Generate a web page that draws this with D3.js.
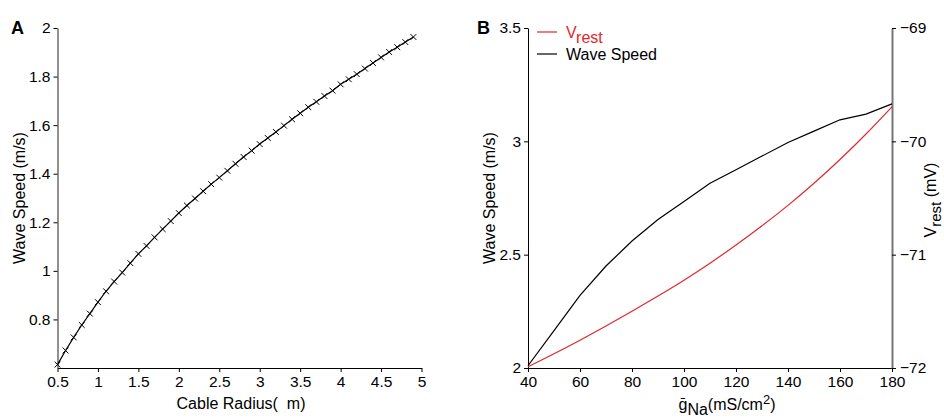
<!DOCTYPE html>
<html>
<head>
<meta charset="utf-8">
<script src="https://cdn.jsdelivr.net/npm/d3@7"></script>
<style>
  body { margin: 0; background: #fff; }
  svg { font-family: "Liberation Sans", Arial, sans-serif; }
  .tick text { font-size: 15.5px; fill: #000; }
</style>
</head>
<body>
<svg id="chart" width="944" height="420"></svg>
<script>
// Panel A: wave speed vs cable radius
const radius = [0.5, 0.6, 0.7, 0.8, 0.9, 1.0, 1.1, 1.2, 1.3, 1.4, 1.5, 1.6, 1.7, 1.8, 1.9,
  2.0, 2.1, 2.2, 2.3, 2.4, 2.5, 2.6, 2.7, 2.8, 2.9, 3.0, 3.1, 3.2, 3.3, 3.4, 3.5, 3.6, 3.7,
  3.8, 3.9, 4.0, 4.1, 4.2, 4.3, 4.4, 4.5, 4.6, 4.7, 4.8, 4.9]
const speedA = [0.614, 0.672, 0.726, 0.777, 0.824, 0.871, 0.916, 0.956, 0.993, 1.032, 1.070,
  1.103, 1.138, 1.172, 1.205, 1.238, 1.269, 1.298, 1.328, 1.357, 1.384, 1.412, 1.441, 1.469,
  1.495, 1.522, 1.547, 1.572, 1.598, 1.624, 1.649, 1.674, 1.696, 1.720, 1.742, 1.768, 1.789,
  1.810, 1.833, 1.856, 1.879, 1.901, 1.921, 1.942, 1.963]
const xTicksA = [0.5, 1, 1.5, 2, 2.5, 3, 3.5, 4, 4.5, 5]
const yTicksA = [0.8, 1, 1.2, 1.4, 1.6, 1.8, 2]

// Panel B: wave speed and resting potential vs gNa
const gNa = [40, 50, 60, 70, 80, 90, 100, 110, 120, 130, 140, 150, 160, 170, 180]
const speedB = [2.01, 2.165, 2.32, 2.45, 2.56, 2.655, 2.735, 2.815, 2.875, 2.935, 2.995,
  3.045, 3.095, 3.12, 3.165]
const vRest = [-71.99, -71.875, -71.755, -71.63, -71.50, -71.365, -71.225, -71.075, -70.915,
  -70.745, -70.565, -70.37, -70.16, -69.935, -69.695]
const xTicksB = [40, 60, 80, 100, 120, 140, 160, 180]
const yTicksB = [2, 2.5, 3, 3.5]
const vTicksB = [-72, -71, -70, -69]

const red = '#e3262b'
const svg = d3.select('#chart')
const fmt = d3.format('')

// ---------- Panel A ----------
const xA = d3.scaleLinear().domain([0.5, 5]).range([57.5, 421.5])
const yA = d3.scaleLinear().domain([0.6, 2]).range([368, 28])

const gA = svg.append('g')

gA.append('g')
  .attr('transform', 'translate(0,368)')
  .call(d3.axisBottom(xA).tickValues(xTicksA).tickSize(4).tickSizeOuter(0).tickPadding(4)
    .tickFormat(fmt))

gA.append('g')
  .attr('transform', 'translate(57.5,0)')
  .call(d3.axisLeft(yA).tickValues(yTicksA).tickSize(4).tickSizeOuter(0).tickPadding(3)
    .tickFormat(fmt))
  .select('.domain').attr('stroke', '#555').attr('stroke-width', 1.3)

gA.append('path')
  .datum(radius.map((r, i) => [r, speedA[i]]))
  .attr('fill', 'none')
  .attr('stroke', '#000')
  .attr('stroke-width', 1.2)
  .attr('d', d3.line().x(d => xA(d[0])).y(d => yA(d[1])))

gA.selectAll('.mark')
  .data(radius.map((r, i) => [r, speedA[i]]))
  .enter()
  .append('path')
  .attr('class', 'mark')
  .attr('transform', d => `translate(${xA(d[0])},${yA(d[1])})`)
  .attr('d', d3.symbol(d3.symbolX, 24))
  .attr('fill', 'none')
  .attr('stroke', '#000')
  .attr('stroke-width', 1)

gA.append('text')
  .attr('transform', 'translate(25,198) rotate(-90)')
  .attr('text-anchor', 'middle')
  .style('font-size', '16px')
  .text('Wave Speed (m/s)')

gA.append('text')
  .attr('x', 241).attr('y', 409)
  .attr('text-anchor', 'middle')
  .style('font-size', '16px')
  .text('Cable Radius(\u00a0\u00a0m)')

gA.append('text')
  .attr('x', 11).attr('y', 34)
  .style('font-size', '18px').style('font-weight', 'bold')
  .text('A')

// ---------- Panel B ----------
const xB = d3.scaleLinear().domain([40, 180]).range([528, 892])
const yB = d3.scaleLinear().domain([2, 3.5]).range([368, 28])
const vB = d3.scaleLinear().domain([-72, -69]).range([368, 28])

const gB = svg.append('g')

gB.append('g')
  .attr('transform', 'translate(0,368)')
  .call(d3.axisBottom(xB).tickValues(xTicksB).tickSize(4).tickSizeOuter(0).tickPadding(4))

gB.append('g')
  .attr('transform', 'translate(528,0)')
  .call(d3.axisLeft(yB).tickValues(yTicksB).tickSize(4).tickSizeOuter(0).tickPadding(3)
    .tickFormat(fmt))

gB.append('g')
  .attr('transform', 'translate(892,0)')
  .call(d3.axisRight(vB).tickValues(vTicksB).tickSize(4).tickSizeOuter(0).tickPadding(4)
    .tickFormat(fmt))
  .select('.domain').attr('stroke', '#777').attr('stroke-width', 2)

gB.append('path')
  .datum(gNa.map((g, i) => [g, vRest[i]]))
  .attr('fill', 'none')
  .attr('stroke', red)
  .attr('stroke-width', 1.2)
  .attr('d', d3.line().curve(d3.curveMonotoneX).x(d => xB(d[0])).y(d => vB(d[1])))

gB.append('path')
  .datum(gNa.map((g, i) => [g, speedB[i]]))
  .attr('fill', 'none')
  .attr('stroke', '#000')
  .attr('stroke-width', 1.2)
  .attr('d', d3.line().x(d => xB(d[0])).y(d => yB(d[1])))

gB.append('text')
  .attr('transform', 'translate(495,198) rotate(-90)')
  .attr('text-anchor', 'middle')
  .style('font-size', '16px')
  .text('Wave Speed (m/s)')

const vLabel = gB.append('text')
  .attr('transform', 'translate(936,200) rotate(-90)')
  .attr('text-anchor', 'middle')
  .style('font-size', '16px')
vLabel.append('tspan').text('V')
vLabel.append('tspan').attr('dy', 5).style('font-size', '15px').text('rest')
vLabel.append('tspan').attr('dy', -5).text('\u00a0(mV)')

const xLabel = gB.append('text')
  .attr('x', 727).attr('y', 410)
  .attr('text-anchor', 'middle')
  .style('font-size', '16px')
xLabel.append('tspan').text('\u1e21')
xLabel.append('tspan').attr('dy', 5).text('Na')
xLabel.append('tspan').attr('dy', -5).text('(mS/cm')
xLabel.append('tspan').attr('dy', -6).style('font-size', '13px').text('2')
xLabel.append('tspan').attr('dy', 6).text(')')

gB.append('text')
  .attr('x', 477).attr('y', 34)
  .style('font-size', '18px').style('font-weight', 'bold')
  .text('B')

// legend
const legend = gB.append('g').attr('transform', 'translate(537,0)')
legend.append('line').attr('x1', 0).attr('x2', 20).attr('y1', 32).attr('y2', 32)
  .attr('stroke', red).attr('stroke-width', 1.2)
legend.append('line').attr('x1', 0).attr('x2', 20).attr('y1', 54).attr('y2', 54)
  .attr('stroke', '#000').attr('stroke-width', 1.2)
const lv = legend.append('text').attr('x', 29).attr('y', 38)
  .style('font-size', '16px').attr('fill', red)
lv.append('tspan').text('V')
lv.append('tspan').attr('dy', 5).text('rest')
legend.append('text').attr('x', 29).attr('y', 60)
  .style('font-size', '16px')
  .text('Wave Speed')
</script>
</body>
</html>
